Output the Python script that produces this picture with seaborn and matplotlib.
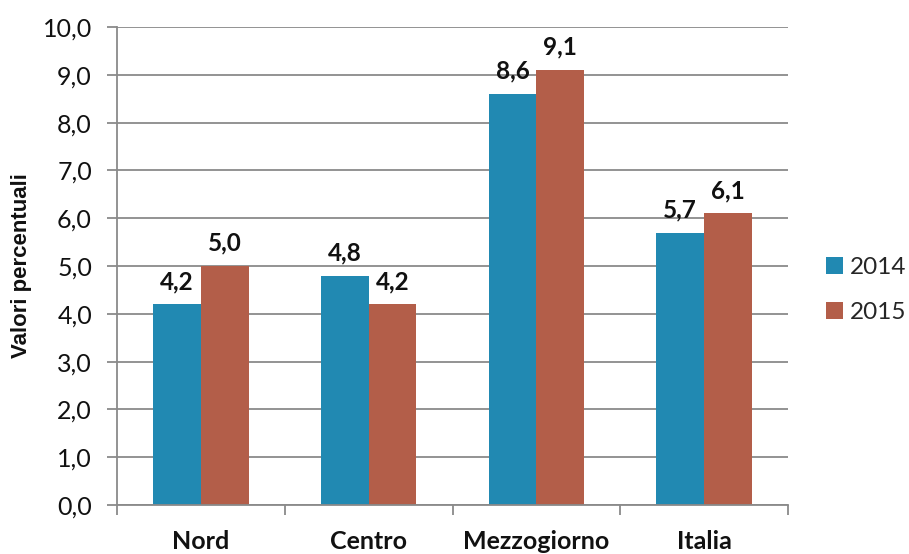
import matplotlib
matplotlib.use("Agg")
import matplotlib.pyplot as plt
import seaborn as sns
import pandas as pd
from matplotlib.ticker import FixedLocator

# Values (percent) by area and year
areas = ["Nord", "Centro", "Mezzogiorno", "Italia"]
years = ["2014", "2015"]
values_2014 = [4.2, 4.8, 8.6, 5.7]
values_2015 = [5.0, 4.2, 9.1, 6.1]
y_ticks = [0, 1, 2, 3, 4, 5, 6, 7, 8, 9, 10]

df = pd.DataFrame({
    "area": areas * 2,
    "anno": [years[0]] * len(areas) + [years[1]] * len(areas),
    "valore": values_2014 + values_2015,
})

sns.set_theme(style="white")
plt.rcParams["font.family"] = ["Lato", "DejaVu Sans"]

fig = plt.figure(figsize=(9.09, 5.54), dpi=100)
ax = fig.add_axes([117 / 909, 1 - 505 / 554, (788 - 117) / 909, (505 - 27) / 554])

palette = {"2014": "#2189b2", "2015": "#b35e49"}
sns.barplot(data=df, x="area", y="valore", hue="anno", order=areas,
            hue_order=years, palette=palette, width=0.57, saturation=1,
            edgecolor="none", ax=ax, legend=True)

fmt = lambda v: f"{v:.1f}".replace(".", ",")
for cont in ax.containers:
    vals = [b.get_height() for b in cont]
    ax.bar_label(cont, labels=[fmt(v) for v in vals], padding=8,
                 fontsize=17.5, fontweight="bold", color="#111111")

grid_c = "#8a8a8a"
ax.set_ylim(0, 10)
ax.set_xlim(-0.5, len(areas) - 0.5)
ax.yaxis.set_major_locator(FixedLocator(y_ticks))
ax.set_yticklabels([fmt(t) for t in y_ticks], fontsize=18, color="#111111")
ax.yaxis.grid(True, color=grid_c, linewidth=1.3)
ax.set_axisbelow(True)
ax.tick_params(axis="y", which="major", length=7, width=1.3, color=grid_c,
               pad=11, left=True, direction="out")

# category boundaries as minor ticks on x
ax.xaxis.set_minor_locator(FixedLocator([i - 0.5 for i in range(len(areas) + 1)]))
ax.tick_params(axis="x", which="minor", length=7, width=1.3, color=grid_c,
               bottom=True, direction="out")
ax.tick_params(axis="x", which="major", length=0, pad=18)
ax.set_xticks(range(len(areas)))
ax.set_xticklabels(areas, fontsize=18, fontweight="bold", color="#111111")

for side in ["top", "right"]:
    ax.spines[side].set_visible(False)
for side in ["left", "bottom"]:
    ax.spines[side].set_color(grid_c)
    ax.spines[side].set_linewidth(1.3)

ax.set_xlabel("")
ax.set_ylabel("Valori percentuali", fontsize=16, fontweight="bold",
              family="Liberation Sans", color="#111111", labelpad=8)

leg = ax.legend(loc="center left", bbox_to_anchor=(826 / 909, 1 - 290 / 554),
                bbox_transform=fig.transFigure, frameon=False, fontsize=17.5,
                handlelength=0.7, handleheight=0.7, handletextpad=0.3,
                labelspacing=1.0, borderpad=0, borderaxespad=0, title=None)

fig.savefig("out.png", dpi=100)
